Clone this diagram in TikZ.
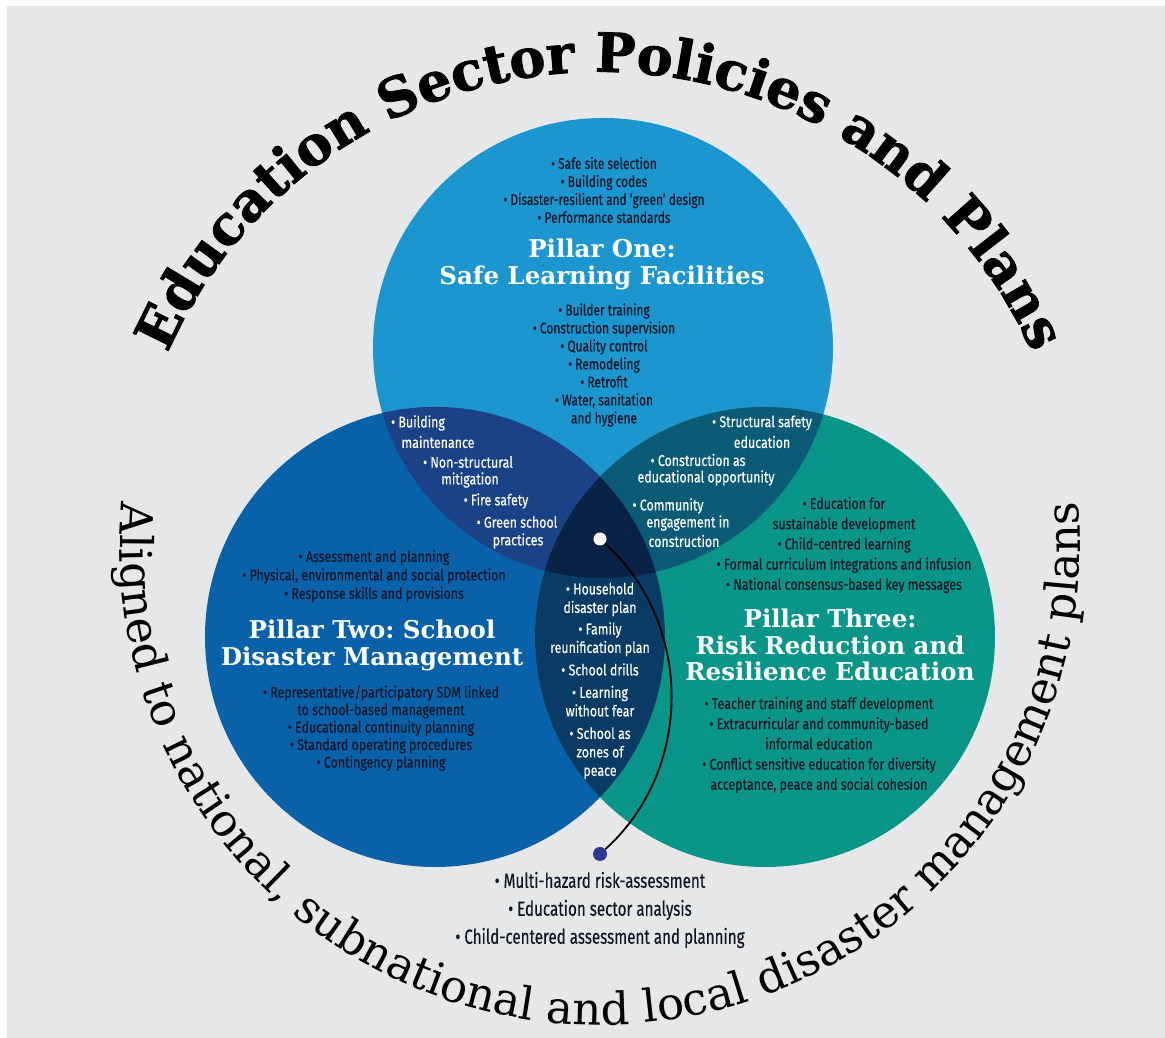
\documentclass[tikz,border=0pt]{standalone}
\usepackage{fontspec}
\usetikzlibrary{decorations.text}
\newfontfamily\bodyf[FakeStretch=0.8,FakeBold=0.3]{Fira Sans}
\newfontfamily\bodytopf[FakeStretch=0.77,FakeBold=0.3]{Fira Sans}
\newfontfamily\bodybigf[FakeStretch=0.74,FakeBold=0.3]{Fira Sans}
\newfontfamily\titlef{DejaVu Serif}
\newfontfamily\archeavy[FakeBold=1.5]{DejaVu Serif}
\newfontfamily\arclight{DejaVu Serif}
\definecolor{bggrey}{RGB}{230,231,232}
\definecolor{cTop}{RGB}{28,150,206}
\definecolor{cLeft}{RGB}{9,98,169}
\definecolor{cRight}{RGB}{10,149,137}
\definecolor{cTL}{RGB}{27,66,134}
\definecolor{cTR}{RGB}{11,91,119}
\definecolor{cLR}{RGB}{10,59,101}
\definecolor{cTLR}{RGB}{9,35,70}
\definecolor{tdark}{RGB}{14,22,38}
\definecolor{dotnavy}{RGB}{43,56,143}
\begin{document}
\begin{tikzpicture}[x=1pt,y=1pt,
  body/.style={font=\bodyf\fontsize{15.5}{18.5}\selectfont, text=tdark, align=center, inner sep=0pt},
  bodyR/.style={body, font=\bodyf\fontsize{15.5}{20.2}\selectfont},
  bodytop/.style={body, font=\bodytopf\fontsize{15.5}{18}\selectfont},
  bodyw/.style={body, text=white},
  bodybig/.style={body, font=\bodybigf\fontsize{20.5}{28}\selectfont},
  ptitle/.style={font=\titlef\bfseries\frenchspacing\fontsize{24.5}{27}\selectfont, text=white, align=center, inner sep=0pt},
  wdot/.style={circle, fill=white, minimum size=13pt, inner sep=0pt},
  ndot/.style={circle, fill=dotnavy, minimum size=14pt, inner sep=0pt},
  conn/.style={draw=black, line width=1.8pt}
]
\useasboundingbox (0,0) rectangle (1165,1038);
\fill[white] (0,0) rectangle (1165,1038);
\fill[bggrey] (7,0) rectangle (1165,1032);
\coordinate (cT) at (603,690);
\coordinate (cL) at (435,401);
\coordinate (cR) at (765,401);
\coordinate (ac) at (600,493);
% circles
\fill[cTop] (cT) circle[radius=230];
\fill[cLeft] (cL) circle[radius=230];
\fill[cRight] (cR) circle[radius=230];
\begin{scope}
  \clip (cT) circle[radius=230];
  \fill[cTL] (cL) circle[radius=230];
  \fill[cTR] (cR) circle[radius=230];
\end{scope}
\begin{scope}
  \clip (cL) circle[radius=230];
  \fill[cLR] (cR) circle[radius=230];
\end{scope}
\begin{scope}
  \clip (cT) circle[radius=230];
  \clip (cL) circle[radius=230];
  \fill[cTLR] (cR) circle[radius=230];
\end{scope}
% arc texts
\path[decorate, decoration={text along path, text align=center,
  text={|\archeavy\bfseries\fontsize{54}{54}\selectfont|Education Sector Policies and Plans}}]
  ([shift={(158:473)}]ac) arc[start angle=158, end angle=22, radius=473];
\path[decorate, decoration={text along path, text align=center,
  text={|\arclight\fontsize{45}{45}\selectfont|Aligned to national, subnational and local disaster management plans}}]
  ([shift={(174:480)}]ac) arc[start angle=174, end angle=366, radius=480];
% top circle
\node[bodytop] (t1) at (604,848) {• Safe site selection\\• Building codes\\• Disaster-resilient and ‘green’ design\\• Performance standards};
\node[ptitle] (p1) at (602,774) {Pillar One:\\Safe Learning Facilities};
\node[bodytop] (t2) at (604,673) {• Builder training\\• Construction supervision\\• Quality control\\• Remodeling\\• Retrofit\\• Water, sanitation\\and hygiene};
% top-left overlap
\node[bodyw] (tl1) at (418,615) {• Building};
\node[bodyw] (tl2) at (438,596) {maintenance};
\node[bodyw] (tl3) at (468,576) {• Non-structural};
\node[bodyw] (tl4) at (470,558) {mitigation};
\node[bodyw] (tl5) at (496,537) {• Fire safety};
\node[bodyw] (tl6) at (517,516) {• Green school};
\node[bodyw] (tl7) at (518,497) {practices};
% top-right overlap
\node[bodyw] (tr1) at (762,615) {• Structural safety};
\node[bodyw] (tr2) at (762,596) {education};
\node[bodyw] (tr3) at (698,578) {• Construction as};
\node[bodyw] (tr4) at (706,560) {educational opportunity};
\node[bodyw] (tr5) at (668,532) {• Community};
\node[bodyw] (tr6) at (688,515) {engagement in};
\node[bodyw] (tr7) at (684,497) {construction};
% centre lens
\node[bodyw] (c1) at (600,357) {• Household\\disaster plan\\[3pt]• Family\\reunification plan\\[4pt]• School drills\\[4pt]• Learning\\without fear\\[4pt]• School as\\zones of\\peace};
% left circle
\node[body] (l1) at (374,462) {• Assessment and planning\\• Physical, environmental and social protection\\• Response skills and provisions};
\node[ptitle] (p2) at (372,393) {Pillar Two: School\\Disaster Management};
\node[body, font=\bodyf\fontsize{15.5}{17.5}\selectfont] (l2) at (381,310) {• Representative/participatory SDM linked\\to school-based management\\• Educational continuity planning\\• Standard operating procedures\\• Contingency planning};
% right circle
\node[bodyR] (r1) at (844,493) {• Education for\\sustainable development\\• Child-centred learning\\• Formal curriculum Integrations and infusion\\• National consensus-based key messages};
\node[ptitle, font=\titlef\bfseries\frenchspacing\fontsize{24.5}{26.5}\selectfont] (p3) at (830,393) {Pillar Three:\\Risk Reduction and\\Resilience Education};
\node[bodyR] (r2) at (819,293) {• Teacher training and staff development\\• Extracurricular and community-based\\informal education\\• Conflict sensitive education for diversity\\acceptance, peace and social cohesion};
% bottom
\node[bodybig] (b1) at (600,128) {• Multi-hazard risk-assessment\\• Education sector analysis\\• Child-centered assessment and planning};
% connector
\node[wdot] (wd) at (600,499) {};
\node[ndot] (nd) at (600,184) {};
\draw[conn] (wd) to[out=-42, in=42] (nd);
\end{tikzpicture}
\end{document}
